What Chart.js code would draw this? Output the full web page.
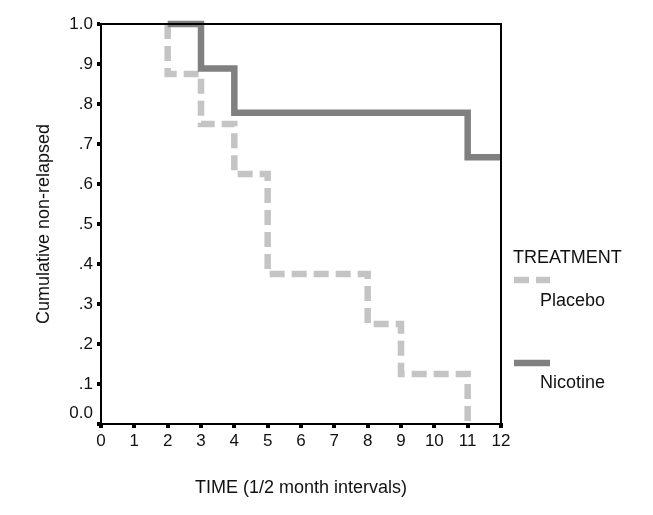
<!DOCTYPE html>
<html>
<head>
<meta charset="utf-8">
<script src="https://cdn.jsdelivr.net/npm/chart.js@4"></script>
<style>
  body { margin: 0; background: #fff; }
</style>
</head>
<body>
<canvas id="myChart" width="653" height="515"></canvas>
<script>
// survival steps
const placeboTime = [2, 2, 3, 4, 5, 8, 9, 11]
const placeboSurv = [1, 0.875, 0.75, 0.625, 0.375, 0.25, 0.125, 0]
const nicotineTime = [2, 3, 4, 11, 12]
const nicotineSurv = [1, 0.889, 0.778, 0.667, 0.667]

const groups = ['Placebo', 'Nicotine']
const yTickLabels = ['0.0', '.1', '.2', '.3', '.4', '.5', '.6', '.7', '.8', '.9', '1.0']
const xTickLabels = ['0', '1', '2', '3', '4', '5', '6', '7', '8', '9', '10', '11', '12']

const FONT = 'Liberation Sans, Arial, sans-serif'

function toPoints(xs, ys) {
    return xs.map((x, i) => ({ x: x, y: ys[i] }))
}

// frame on top/right + the TREATMENT legend on the side
const extras = {
    id: 'extras',
    afterDraw(chart) {
        const c = chart.ctx
        const a = chart.chartArea
        c.save()
        c.strokeStyle = '#000'
        c.lineWidth = 2
        c.beginPath()
        c.moveTo(a.left, a.top)
        c.lineTo(a.right, a.top)
        c.lineTo(a.right, a.bottom)
        c.stroke()

        c.fillStyle = '#111'
        c.font = '18px ' + FONT
        c.textBaseline = 'middle'
        c.textAlign = 'left'
        c.fillText('TREATMENT', 513, 258)

        const rows = [{ line: 280, text: 301 }, { line: 363, text: 383 }]
        chart.data.datasets.forEach((ds, i) => {
            c.strokeStyle = ds.borderColor
            c.lineWidth = ds.borderWidth
            c.lineCap = 'butt'
            c.setLineDash(ds.borderDash || [])
            c.beginPath()
            c.moveTo(514, rows[i].line)
            c.lineTo(550, rows[i].line)
            c.stroke()
            c.setLineDash([])
            c.fillText(ds.label, 540, rows[i].text)
        })
        c.restore()
    }
}

const ctx = document.getElementById('myChart').getContext('2d')
const myChart = new Chart(ctx, {
    type: 'line',
    data: {
        datasets: [{
            label: groups[0],
            data: toPoints(placeboTime, placeboSurv),
            borderColor: '#c4c4c4',
            borderWidth: 6.5,
            borderDash: [15, 7],
            borderCapStyle: 'butt',
            stepped: 'before',
            pointRadius: 0,
            clip: false,
            order: 2
        }, {
            label: groups[1],
            data: toPoints(nicotineTime, nicotineSurv),
            borderColor: '#808080',
            borderWidth: 6.5,
            borderCapStyle: 'butt',
            stepped: 'before',
            pointRadius: 0,
            clip: false,
            order: 1
        }]
    },
    options: {
        responsive: false,
        animation: false,
        layout: { padding: { top: 24, right: 152, left: 0, bottom: 0 } },
        plugins: {
            legend: { display: false },
            tooltip: { enabled: false }
        },
        scales: {
            x: {
                type: 'linear',
                min: 0,
                max: 12,
                afterFit: (s) => { s.height = 91 },
                ticks: {
                    stepSize: 1,
                    autoSkip: false,
                    padding: 3,
                    color: '#111',
                    font: { family: FONT, size: 17 },
                    maxRotation: 0,
                    callback: (v, i) => xTickLabels[i]
                },
                grid: { drawOnChartArea: false, tickLength: 4, lineWidth: 4, color: '#000' },
                border: { display: true, color: '#000', width: 2 },
                title: {
                    display: true,
                    text: 'TIME (1/2 month intervals)',
                    color: '#111',
                    font: { family: FONT, size: 18 },
                    padding: { top: 0, bottom: 16 }
                }
            },
            y: {
                min: 0,
                max: 1,
                afterFit: (s) => { s.width = 101 },
                ticks: {
                    stepSize: 0.1,
                    autoSkip: false,
                    padding: 4,
                    color: '#111',
                    font: { family: FONT, size: 17 },
                    callback: (v, i) => i === 0 ? [yTickLabels[i], ''] : yTickLabels[i]
                },
                grid: { drawOnChartArea: false, tickLength: 4, lineWidth: 4, color: '#000' },
                border: { display: true, color: '#000', width: 2 },
                title: {
                    display: true,
                    text: 'Cumulative non-relapsed',
                    color: '#111',
                    font: { family: FONT, size: 18 },
                    padding: { top: 33, bottom: 0 }
                }
            }
        }
    },
    plugins: [extras]
})
</script>
</body>
</html>
